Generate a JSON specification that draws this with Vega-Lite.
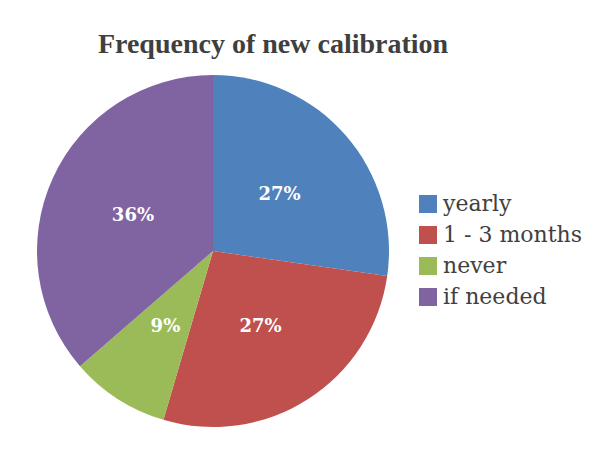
{
  "$schema": "https://vega.github.io/schema/vega-lite/v6.json",
  "width": 352,
  "height": 352,
  "autosize": {"type": "none"},
  "padding": {"left": 37, "top": 75, "right": 208, "bottom": 30},
  "background": "white",
  "title": {
    "text": "Frequency of new calibration",
    "font": "Liberation Serif",
    "fontSize": 28,
    "fontWeight": "bold",
    "color": "#3F3F3F",
    "anchor": "middle",
    "frame": "group",
    "dx": 60,
    "offset": 16
  },
  "data": {
    "values": [
      {"category": "yearly", "share": 0.27},
      {"category": "1 - 3 months", "share": 0.27},
      {"category": "never", "share": 0.09},
      {"category": "if needed", "share": 0.36}
    ]
  },
  "transform": [
    {"window": [{"op": "row_number", "as": "idx"}]}
  ],
  "encoding": {
    "theta": {"field": "share", "type": "quantitative", "stack": true},
    "order": {"field": "idx", "type": "quantitative"}
  },
  "layer": [
    {
      "mark": {"type": "arc", "outerRadius": 176},
      "encoding": {
        "color": {
          "field": "category",
          "type": "nominal",
          "scale": {
            "domain": ["yearly", "1 - 3 months", "never", "if needed"],
            "range": ["#4F81BD", "#C0504D", "#9BBB59", "#8064A2"]
          },
          "legend": {
            "orient": "none",
            "legendX": 380,
            "legendY": 118,
            "title": null,
            "padding": 0,
            "symbolType": "square",
            "symbolSize": 324,
            "symbolStrokeWidth": 0,
            "symbolOpacity": 1,
            "labelFont": "DejaVu Serif",
            "labelFontSize": 22,
            "labelColor": "#404040",
            "labelOffset": 4,
            "rowPadding": 9,
            "labelLimit": 300
          }
        }
      }
    },
    {
      "mark": {
        "type": "text",
        "radius": 88,
        "font": "DejaVu Serif",
        "fontWeight": "bold",
        "fontSize": 18,
        "dy": 2,
        "fill": "white"
      },
      "encoding": {
        "text": {"field": "share", "type": "quantitative", "format": ".0%"}
      }
    }
  ]
}
